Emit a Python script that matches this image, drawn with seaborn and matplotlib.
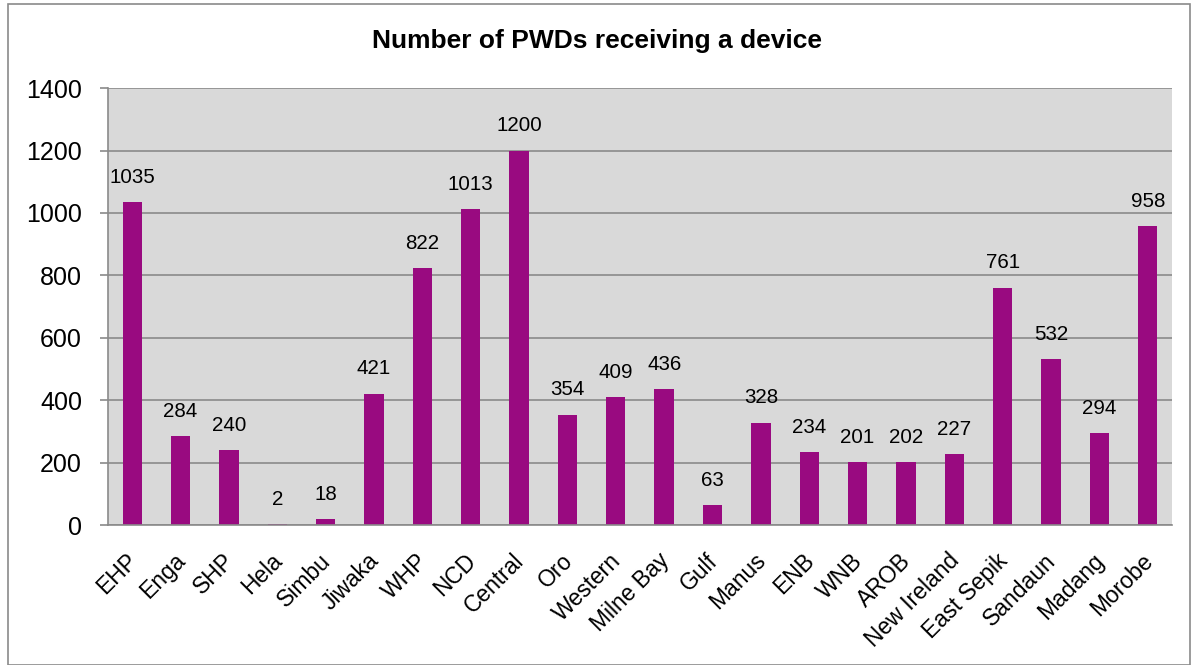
import matplotlib
matplotlib.use("Agg")
import matplotlib.pyplot as plt
import seaborn as sns
import pandas as pd
from matplotlib.patches import Rectangle
from matplotlib.transforms import ScaledTranslation

provinces = ["EHP", "Enga", "SHP", "Hela", "Simbu", "Jiwaka", "WHP", "NCD",
             "Central", "Oro", "Western", "Milne Bay", "Gulf", "Manus", "ENB",
             "WNB", "AROB", "New Ireland", "East Sepik", "Sandaun", "Madang",
             "Morobe"]
devices = [1035, 284, 240, 2, 18, 421, 822, 1013, 1200, 354, 409, 436, 63,
           328, 234, 201, 202, 227, 761, 532, 294, 958]
y_ticks = [0, 200, 400, 600, 800, 1000, 1200, 1400]
title = "Number of PWDs receiving a device"

sns.set_theme(style="white")
plt.rcParams["font.family"] = ["Liberation Sans", "DejaVu Sans"]
plt.rcParams["text.color"] = "black"
plt.rcParams["xtick.labelcolor"] = "black"
plt.rcParams["ytick.labelcolor"] = "black"

bar_color = "#990a80"
grid_color = "#8a8a8a"

df = pd.DataFrame({"Province": provinces, "Devices": devices})

fig = plt.figure(figsize=(11.94, 6.65), dpi=100)
ax = fig.add_axes([0.0905, 0.2105, 0.891, 0.657])

sns.barplot(data=df, x="Province", y="Devices", color=bar_color, width=0.4,
            saturation=1, ax=ax, edgecolor="none")

ax.set_facecolor("#d9d9d9")
ax.set_ylim(0, 1400)
ax.set_xlim(-0.5, len(provinces) - 0.5)
ax.set_yticks(y_ticks)
ax.set_yticklabels([str(t) for t in y_ticks], fontsize=18, color="black")
ax.yaxis.grid(True, color=grid_color, linewidth=1.2)
ax.set_axisbelow(True)
ax.set_xlabel("")
ax.set_ylabel("")

# category labels at bar centres, tick marks on the category boundaries
ax.set_xticks(range(len(provinces)))
ax.set_xticklabels(provinces, rotation=45, ha="right", va="bottom",
                   rotation_mode="anchor", fontsize=16.5, color="black")
ax.tick_params(axis="x", which="major", length=0, pad=29)
shift = ScaledTranslation(7 / 72, 0, fig.dpi_scale_trans)
for lbl in ax.get_xticklabels():
    lbl.set_transform(lbl.get_transform() + shift)
ax.set_xticks([i - 0.5 for i in range(len(provinces) + 1)], minor=True)
ax.tick_params(axis="x", which="minor", length=5, width=1.2, color=grid_color,
               direction="out")
ax.tick_params(axis="y", length=5.8, width=1.2, color=grid_color,
               direction="out", pad=13, left=True)

for side in ["top", "right"]:
    ax.spines[side].set_visible(False)
for side in ["left", "bottom"]:
    ax.spines[side].set_color(grid_color)
    ax.spines[side].set_linewidth(1.2)

for container in ax.containers:
    ax.bar_label(container, labels=[str(v) for v in devices], padding=11,
                 fontsize=14.8, color="black")

fig.text(0.5, 0.938, title, ha="center", va="center", fontsize=19,
         fontweight="bold", color="black")

# chart outline
fig.patches.append(Rectangle((0.007, 0.0), 0.99, 0.994,
                             transform=fig.transFigure, fill=False,
                             edgecolor="#8a8a8a", linewidth=1.2))

fig.savefig("out.png", dpi=100, facecolor="white")
